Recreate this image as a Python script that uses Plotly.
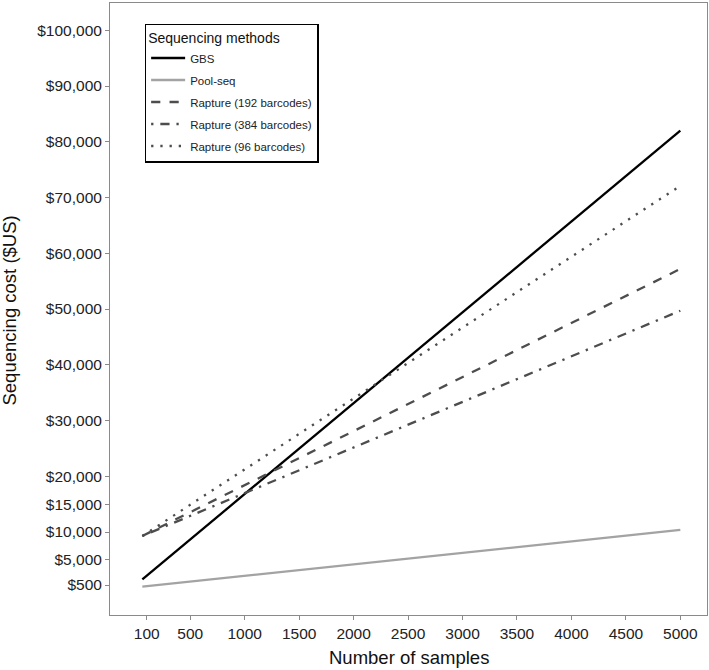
import plotly.graph_objects as go

# Sequencing cost vs number of samples
samples = [60, 5000]
gbs = [1500, 82000]
pool_seq = [200, 10400]
rapture_192 = [9300, 57200]
rapture_384 = [9300, 49700]
rapture_96 = [9300, 72100]

y_ticks = [500, 5000, 10000, 15000, 20000, 30000, 40000, 50000,
           60000, 70000, 80000, 90000, 100000]
y_labels = ["$500", "$5,000", "$10,000", "$15,000", "$20,000", "$30,000", "$40,000",
            "$50,000", "$60,000", "$70,000", "$80,000", "$90,000", "$100,000"]
x_ticks = [100, 500, 1000, 1500, 2000, 2500, 3000, 3500, 4000, 4500, 5000]

FONT = "Liberation Sans, Arial, Helvetica, sans-serif"
DARK = "#4d4d4d"
LW = 2.3

series = [
    ("GBS", gbs, "#000000", "solid"),
    ("Pool-seq", pool_seq, "#a3a3a3", "solid"),
    ("Rapture (192 barcodes)", rapture_192, DARK, "9.2px,9.2px"),
    ("Rapture (384 barcodes)", rapture_384, DARK, "2.3px,6.9px,9.2px,6.9px"),
    ("Rapture (96 barcodes)", rapture_96, DARK, "2.3px,6.9px"),
]

fig = go.Figure()
for name, vals, color, dash in series:
    # one legend group per trace so tracegroupgap spaces the legend rows
    fig.add_trace(go.Scatter(x=samples, y=vals, mode="lines", name=name, legendgroup=name,
                             line=dict(color=color, width=LW, dash=dash)))

axis_common = dict(
    showline=True, mirror=True, linecolor="#8a8a8a", linewidth=1,
    ticks="outside", ticklen=4, tickwidth=1, tickcolor="#8a8a8a",
    showgrid=False, zeroline=False,
    tickfont=dict(family=FONT, size=15.5, color="#222222"),
    automargin=False,
)

fig.update_xaxes(range=[-237, 5245], tickvals=x_ticks, **axis_common)
fig.update_yaxes(range=[-4880, 104900], tickvals=y_ticks, ticktext=y_labels, **axis_common)

# axis titles placed as annotations so their position is exact
title_font = dict(family=FONT, size=18.5, color="#111111")
fig.add_annotation(text="Number of samples", xref="paper", yref="paper",
                   x=0.5, y=-0.069, xanchor="center", yanchor="middle",
                   showarrow=False, font=title_font)
fig.add_annotation(text="Sequencing cost ($US)", xref="paper", yref="paper",
                   x=-0.168, y=0.497, xanchor="center", yanchor="middle",
                   textangle=-90, showarrow=False, font=title_font)

fig.update_layout(
    width=709, height=670,
    margin=dict(l=110, r=2, t=3, b=55),
    plot_bgcolor="white", paper_bgcolor="white",
    font=dict(family=FONT, color="#111111"),
    showlegend=True,
    legend=dict(
        title=dict(text="Sequencing methods", font=dict(family=FONT, size=14, color="#111111")),
        font=dict(family=FONT, size=11.5, color="#222222"),
        x=0.058, y=0.966, xanchor="left", yanchor="top",
        bgcolor="white", bordercolor="#000000", borderwidth=1.5,
        itemwidth=34, tracegroupgap=3,
    ),
)

# drop the browser's default body margin so the figure sits at the page corner
fig.write_html("out.html", config={"displayModeBar": False},
               post_script="document.body.style.margin='0';")
